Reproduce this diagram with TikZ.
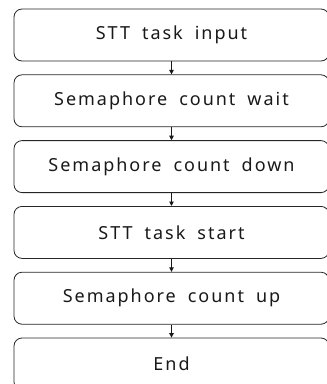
\documentclass[tikz,border=0pt]{standalone}
\usepackage{fontspec}
\setmainfont{Noto Sans}[LetterSpace=11,WordSpace=1.8]
\usetikzlibrary{positioning,arrows.meta}
\tikzset{
	stepbox/.style={draw=black!85, rounded corners=8pt, line width=0.8pt,
		minimum width=315pt, minimum height=52pt, inner sep=0pt,
		font=\fontsize{18}{20}\selectfont, text=black!90},
	flow/.style={-{Triangle[length=4.5pt,width=4.5pt]}, line width=0.9pt, draw=black!90}
}
\begin{document}
\begin{tikzpicture}
	\useasboundingbox (0,0) rectangle (327pt,-384pt);
	% Define the steps
	\node[stepbox] (Input) at (171.5pt,-35pt) {STT task input};
	\node[stepbox, below=13pt of Input] (Wait) {Semaphore count wait};
	\node[stepbox, below=13pt of Wait] (Down) {Semaphore count down};
	\node[stepbox, below=13pt of Down] (Start) {STT task start};
	\node[stepbox, below=13pt of Start] (Up) {Semaphore count up};
	\node[stepbox, below=13pt of Up] (End) {End};

	% Define the arrows
	\draw[flow] (Input) -- (Wait);
	\draw[flow] (Wait) -- (Down);
	\draw[flow] (Down) -- (Start);
	\draw[flow] (Start) -- (Up);
	\draw[flow] (Up) -- (End);
\end{tikzpicture}
\end{document}
